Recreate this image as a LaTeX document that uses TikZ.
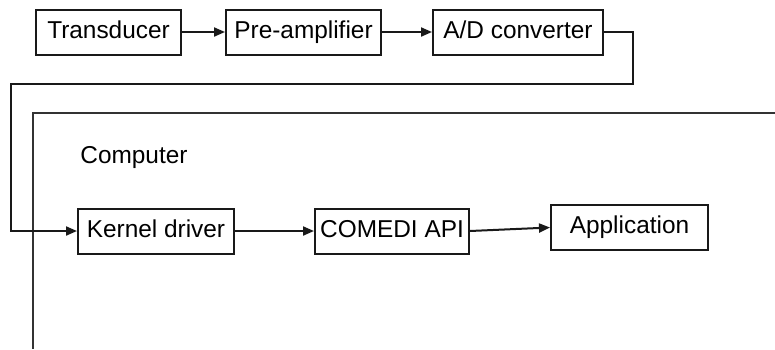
\documentclass[tikz,border=0pt]{standalone}
\usepackage{fontspec}
\setmainfont{Liberation Sans}
\usepackage{tikz}
\usetikzlibrary{arrows.meta, positioning}

\begin{document}
\begin{tikzpicture}[
    x=0.5pt, y=-0.5pt,
    font=\fontsize{12.2pt}{14pt}\selectfont,
    block/.style={rectangle, draw=black!90, line width=1pt, minimum height=22.5pt,
                  text height=8.8pt, text depth=2.6pt, inner sep=0pt, anchor=west},
    conn/.style={-{Triangle[length=5.5pt, width=4.5pt]}, line width=1pt, black!90}
]
    \useasboundingbox (0,0) rectangle (775,349);

    % acquisition chain
    \node[block, minimum width=72.5pt] (trans) at (35,32) {Transducer};
    \node[block, minimum width=77.5pt, right=21.5pt of trans] (preamp) {Pre-amplifier};
    \node[block, minimum width=85pt, right=25pt of preamp] (adc) {A/D converter};

    \draw[conn] (trans) -- (preamp);
    \draw[conn] (preamp) -- (adc);

    % computer frame
    \draw[line width=1pt, black!80] (775,113) -- (33,113) -- (33,349);
    \node[anchor=west, inner sep=0pt] (comp) at (80,158) {Computer};

    % software chain
    \node[block, minimum width=78pt] (kernel) at (77,231) {Kernel driver};
    \node[block, minimum width=77pt, right=39.5pt of kernel] (comedi) {COMEDI API};
    \node[block, minimum width=78.5pt] (app) at (550,227.5) {Application};

    \draw[conn] (kernel) -- (comedi);
    \draw[conn] (comedi.east) -- (app.west);

    % line from the converter into the computer
    \coordinate (loopR) at (633,84);
    \coordinate (loopL) at (11,84);
    \draw[conn] (adc.east) -| (loopR) -- (loopL) |- (kernel.west);
\end{tikzpicture}
\end{document}
